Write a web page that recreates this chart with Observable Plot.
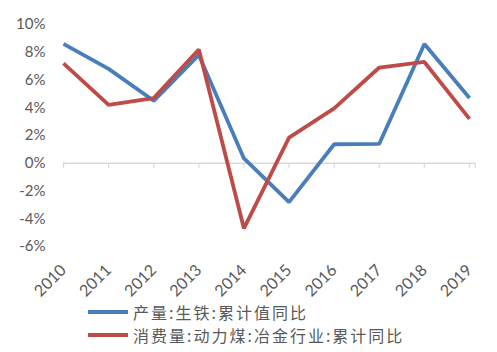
<!DOCTYPE html>
<html><head><meta charset="utf-8">
<script src="https://cdn.jsdelivr.net/npm/d3@7"></script>
<script src="https://cdn.jsdelivr.net/npm/@observablehq/plot@0.6"></script>
<style>
body{margin:0;background:#fff;}
#legend{font-family:"Noto Sans CJK SC",sans-serif;font-size:16px;color:#595959;letter-spacing:2px;}
.row{display:flex;align-items:center;height:23px;padding-left:88px;}
.sw{width:40px;height:4px;margin-right:5px;}
</style></head>
<body>
<div id="chart"></div>
<div id="legend"></div>
<script>
const years = [2010,2011,2012,2013,2014,2015,2016,2017,2018,2019];
const pigIron = [8.6,6.8,4.5,7.8,0.35,-2.8,1.37,1.4,8.6,4.7];
const steamCoal = [7.2,4.2,4.7,8.2,-4.7,1.85,3.95,6.9,7.3,3.2];
const yTicks = [-6,-4,-2,0,2,4,6,8,10];
const seriesNames = ["产量:生铁:累计值同比","消费量:动力煤:冶金行业:累计同比"];
const colors = ["#4A7EBB","#BE4B48"];

const rows = [];
years.forEach((y,i)=>{
  rows.push({year:y, value:pigIron[i], s:seriesNames[0]});
  rows.push({year:y, value:steamCoal[i], s:seriesNames[1]});
});

const chart = Plot.plot({
  width:497, height:300,
  marginLeft:63, marginRight:28, marginTop:24, marginBottom:54,
  style:{fontFamily:"Lato, sans-serif", fontSize:"15px", color:"#595959", background:"#fff", overflow:"visible"},
  x:{type:"linear", domain:[2010,2019], axis:null},
  y:{domain:[-6,10], axis:null},
  color:{domain:seriesNames, range:colors},
  marks:[
    Plot.ruleY([0],{x1:2010, x2:2019.13, stroke:"#d9d9d9", strokeWidth:1.3}),
    Plot.ruleX([...years, 2019.13],{x:d=>d, y1:0, y2:-0.36, stroke:"#d9d9d9", strokeWidth:1.3}),
    Plot.axisY(yTicks,{tickSize:0, tickPadding:18, tickFormat:d=>d+"%", fill:"#595959", label:null}),
    Plot.axisX(years,{tickSize:0, tickPadding:21, tickRotate:-45, tickFormat:d=>String(d), fill:"#595959", label:null, fontSize:16}),
    Plot.line(rows,{x:"year", y:"value", z:"s", stroke:"s", strokeWidth:3.8, strokeLinejoin:"miter", strokeLinecap:"butt"})
  ]
});
document.getElementById("chart").appendChild(chart);

const leg = document.getElementById("legend");
seriesNames.forEach((n,i)=>{
  const r = document.createElement("div"); r.className="row";
  const sw = document.createElement("div"); sw.className="sw"; sw.style.background=colors[i];
  const t = document.createElement("span"); t.textContent=n;
  r.appendChild(sw); r.appendChild(t); leg.appendChild(r);
});
</script>
</body></html>
